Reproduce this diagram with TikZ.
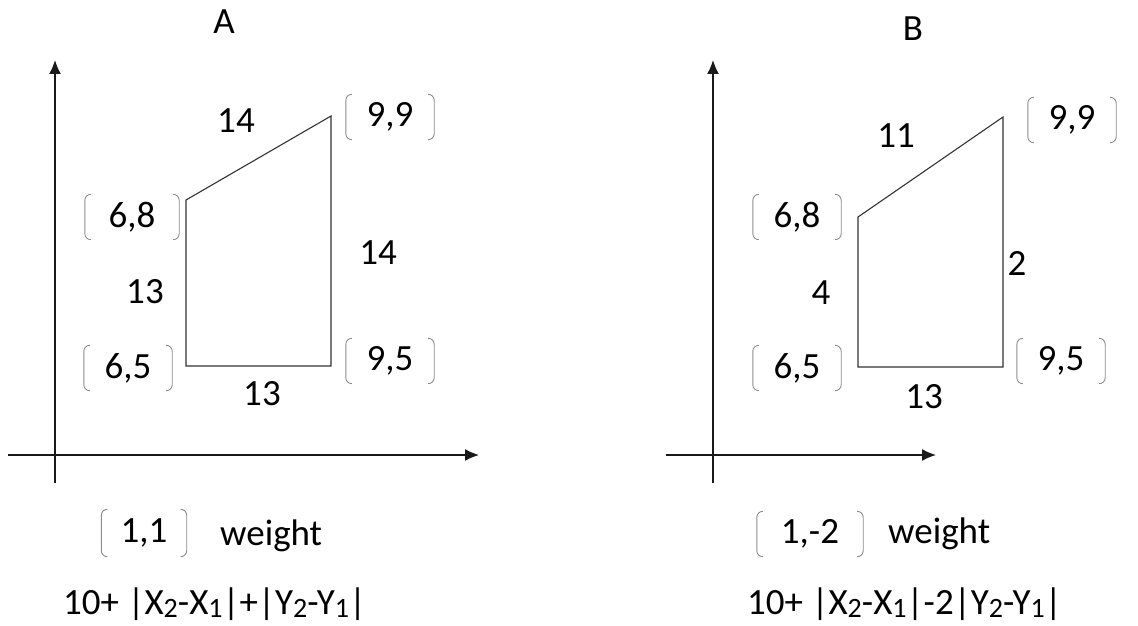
\documentclass[tikz,border=0pt]{standalone}
\usepackage{fontspec}
\setmainfont{Carlito}
\usetikzlibrary{arrows.meta}
\newcommand\sbd[1]{\raisebox{-0.1em}{\fontsize{28}{28}\selectfont #1}}
\newcommand\brk[1]{%
  \draw[brkline] ([xshift=6pt]#1.north west) -- (#1.north west) -- (#1.south west) -- ([xshift=6pt]#1.south west);
  \draw[brkline] ([xshift=-6pt]#1.north east) -- (#1.north east) -- (#1.south east) -- ([xshift=-6pt]#1.south east);}
\tikzset{
  axis/.style={line width=1.4pt, draw=black!90, -{Latex[length=14pt,width=12pt]}},
  poly/.style={line width=1.1pt, draw=black!80},
  lbl/.style={font=\fontsize{37}{42}\selectfont, inner sep=0pt},
  cpt/.style={lbl, minimum width=88pt, minimum height=45pt},
  brkline/.style={draw=black!45, line width=0.9pt, rounded corners=6pt},
}
\begin{document}
\begin{tikzpicture}[x=1pt,y=-1pt]
\useasboundingbox (0,0) rectangle (1138,626);
% ---------- panel A ----------
\node[lbl] (tA) at (224,22) {A};
\coordinate (ya0) at (55,483); \coordinate (ya1) at (55,60);
\coordinate (xa0) at (8,455);  \coordinate (xa1) at (479,455);
\draw[axis] (ya0) -- (ya1);
\draw[axis] (xa0) -- (xa1);
\coordinate (a68) at (186,200); \coordinate (a99) at (331,116);
\coordinate (a95) at (331,366); \coordinate (a65) at (186,366);
\draw[poly] (a68) -- (a99) -- (a95) -- (a65) -- cycle;
\node[cpt, minimum width=94pt] (la68) at (132,217) {6,8};
\node[cpt] (la99) at (390,117) {9,9};
\node[cpt] (la65) at (128,368) {6,5};
\node[cpt] (la95) at (390,361) {9,5};
\brk{la68}\brk{la99}\brk{la65}\brk{la95}
\node[lbl] (ea1) at (236,121) {14};
\node[lbl] (ea2) at (378,253) {14};
\node[lbl] (ea3) at (145,292) {13};
\node[lbl] (ea4) at (262,394) {13};
\node[cpt, minimum width=85pt, minimum height=47pt] (wa) at (144,533) {1,1};
\brk{wa}
\node[lbl, anchor=base west] (wta) at (220,545) {weight};
\node[lbl, anchor=base west] (fa) at (63,614) {10+ |X\sbd{2}-X\sbd{1}|+|Y\sbd{2}-Y\sbd{1}|};
% ---------- panel B ----------
\node[lbl] (tB) at (913,29) {B};
\coordinate (yb0) at (713,483); \coordinate (yb1) at (713,60);
\coordinate (xb0) at (666,455); \coordinate (xb1) at (936,455);
\draw[axis] (yb0) -- (yb1);
\draw[axis] (xb0) -- (xb1);
\coordinate (b68) at (858,217); \coordinate (b99) at (1003,117);
\coordinate (b95) at (1003,367); \coordinate (b65) at (858,367);
\draw[poly] (b68) -- (b99) -- (b95) -- (b65) -- cycle;
\node[cpt] (lb68) at (797,217) {6,8};
\node[cpt] (lb99) at (1072,120) {9,9};
\node[cpt] (lb65) at (797,368) {6,5};
\node[cpt] (lb95) at (1061,361) {9,5};
\brk{lb68}\brk{lb99}\brk{lb65}\brk{lb95}
\node[lbl] (eb1) at (896,136) {11};
\node[lbl] (eb2) at (1017,263) {2};
\node[lbl] (eb3) at (821,293) {4};
\node[lbl] (eb4) at (924,397) {13};
\node[cpt, minimum width=106pt, minimum height=45pt] (wb) at (810,534) {1,-2};
\brk{wb}
\node[lbl, anchor=base west] (wtb) at (888,543) {weight};
\node[lbl, anchor=base west] (fb) at (747,614) {10+ |X\sbd{2}-X\sbd{1}|-2|Y\sbd{2}-Y\sbd{1}|};
\end{tikzpicture}
\end{document}
